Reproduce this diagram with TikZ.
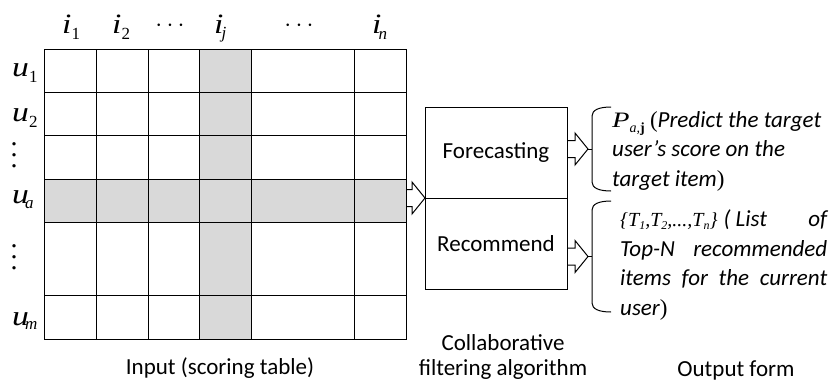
\documentclass[tikz,border=0pt]{standalone}
\usepackage{fontspec}
\setmainfont{Carlito}
\newfontfamily\tnr{Liberation Serif}
\usetikzlibrary{calc}
\usetikzlibrary{positioning}
\tikzset{
    gridline/.style = {line width=1pt,draw=black},
    shadecell/.style = {fill=gray!30,draw=none},
    tablebox/.style = {rectangle,line width=1pt,draw=black,inner sep=0pt,outer sep=0pt,minimum width=362pt,minimum height=290pt},
    algbox/.style = {rectangle,line width=1pt,draw=black,outer sep=0pt,minimum width=142pt,minimum height=91pt,font=\fontsize{23}{28}\selectfont},
    lbl/.style = {inner sep=0pt,font=\tnr\fontsize{28}{28}\selectfont},
    caption/.style = {align=center,inner sep=0pt,font=\fontsize{23}{25}\selectfont},
    outtext/.style = {inner sep=0pt,font=\fontsize{23}{29.5}\selectfont\itshape},
    hollow/.style = {line width=1pt},
    bracket/.style = {line width=1pt}
}
% wide italic letter with lowered index
\newcommand{\ix}[3][6pt]{\scalebox{1.2}[1]{\textit{#2}}\raisebox{-#1}{\fontsize{17}{17}\selectfont #3}}
\newcommand{\tallvdots}{\vbox{\baselineskip=11pt\lineskiplimit=-20pt\hbox{.}\hbox{.}\hbox{.}}}
% open block arrow from #1 to the tip #2
\newcommand{\hollowarrow}[2]{
  \draw[hollow] ($(#1)+(0,-8.5)$) -- ($(#2)+(-13,-8.5)$) -- ($(#2)+(-13,-16)$) -- (#2)
    -- ($(#2)+(-13,16)$) -- ($(#2)+(-13,8.5)$) -- ($(#1)+(0,8.5)$);
}
% curly brace opening to the right, tip at #1, half height #2
\newcommand{\curlybrace}[2]{
  \draw[bracket] ($(#1)+(4,-#2+9)$) -- ($(#1)+(4,#2-9)$) .. controls +(0,6) and +(-12,0) .. ($(#1)+(23,#2)$);
  \draw[bracket] ($(#1)+(4,-#2+9)$) .. controls +(0,-6) and +(-12,0) .. ($(#1)+(23,-#2)$);
  \draw[bracket] (#1) -- ++(4,0);
}

\begin{document}
\begin{tikzpicture}[x=1pt,y=-1pt]
  \useasboundingbox (0,0) rectangle (832,383);

  % scoring table
  \fill[shadecell] (199,49) rectangle (251,339);
  \fill[shadecell] (44,179) rectangle (406,222);
  \node[tablebox] (tab) at (225,194) {};
  \foreach \x in {96,148,199,251,354}
    \draw[gridline] (\x,49) -- (\x,339);
  \foreach \y in {92,135,179,222,295}
    \draw[gridline] (44,\y) -- (406,\y);

  % items
  \node[lbl,anchor=base west] (i1) at (62,33) {\ix{i}{1}};
  \node[lbl,anchor=base west] (i2) at (112,33) {\ix{i}{2}};
  \node[lbl,font=\fontsize{30}{30}\selectfont] (idots1) at (170,26) {$\cdots$};
  \node[lbl,anchor=base west] (ij) at (214,33) {\ix[5pt]{i}{\hspace{-2pt}\textit{j}}};
  \node[lbl,font=\fontsize{30}{30}\selectfont] (idots2) at (299,26) {$\cdots$};
  \node[lbl,anchor=base west] (in) at (372,33) {\ix{i}{\hspace{-3pt}\textit{n}}};

  % users
  \node[lbl,anchor=base west] (u1) at (12,76) {\ix{u}{1}};
  \node[lbl,anchor=base west] (u2) at (12,121) {\ix{u}{2}};
  \node[lbl] (udots1) at (14,155) {\tallvdots};
  \node[lbl,anchor=base west] (ua) at (12,203) {\ix[5pt]{u}{\hspace{-4pt}\textit{a}}};
  \node[lbl] (udots2) at (14,257) {\tallvdots};
  \node[lbl,anchor=base west] (um) at (12,325) {\ix[4pt]{u}{\hspace{-4pt}\textit{m}}};

  % algorithm
  \node[algbox] (fc) at (496,152.5) {Forecasting};
  \node[algbox,below=0pt of fc] (rc) {Recommend};

  \coordinate (b1) at (588,149);
  \coordinate (b2) at (588,256.5);
  \hollowarrow{tab.east |- fc.south west}{fc.south west}
  \hollowarrow{fc.east |- b1}{b1}
  \hollowarrow{rc.east |- b2}{b2}
  \curlybrace{b1}{42}
  \curlybrace{b2}{55.5}

  % output
  \node[outtext,anchor=north west,align=left] (pred) at (612,111)
    {{\tnr\upshape\fontsize{22}{22}\selectfont\scalebox{1.3}[1]{\textit{P}}\raisebox{-5pt}{\fontsize{14}{14}\selectfont\textit{a,}\textbf{j}}} {\tnr\upshape(}Predict the target\\user's score on the\\target item{\tnr\upshape)}};
  \node[outtext,anchor=north west,text width=207pt,align=justify] (tops) at (620,210)
    {{\tnr\fontsize{20}{20}\selectfont\{T\raisebox{-3pt}{\fontsize{12}{12}\selectfont 1},T\raisebox{-3pt}{\fontsize{12}{12}\selectfont 2},...,T\raisebox{-3pt}{\fontsize{12}{12}\selectfont n}\}}\hspace{6pt}( List\hfill of\linebreak Top-N recommended\linebreak items for the current\linebreak user{\tnr\upshape)}};

  % captions
  \node[caption] (cin) at (220,368) {Input (scoring table)};
  \node[caption] (calg) at (503,357) {Collaborative\\filtering algorithm};
  \node[caption] (cout) at (736,370) {Output form};
\end{tikzpicture}
\end{document}
